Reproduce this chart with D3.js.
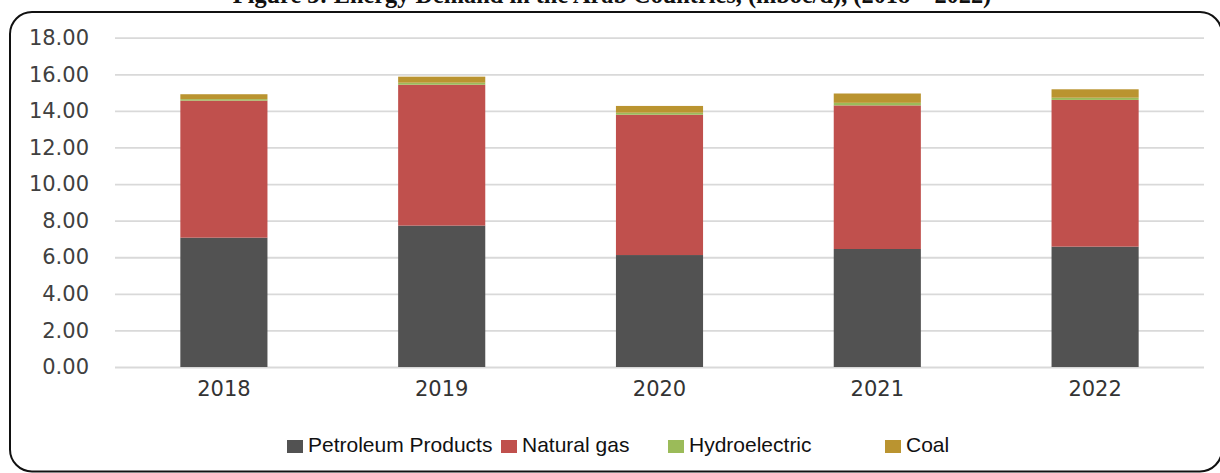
<!DOCTYPE html>
<html>
<head>
<meta charset="utf-8">
<script src="https://cdn.jsdelivr.net/npm/d3@7"></script>
<style>
  html, body { margin: 0; padding: 0; background: #fff; }
  svg { display: block; }
</style>
</head>
<body>
<svg id="chart" width="1220" height="473"></svg>
<script>
// ---- data ----
const years = ["2018", "2019", "2020", "2021", "2022"];
const petroleumProducts = [7.07, 7.73, 6.12, 6.45, 6.58];
const naturalGas = [7.49, 7.70, 7.67, 7.85, 8.02];
const hydroelectric = [0.08, 0.11, 0.11, 0.14, 0.12];
const coal = [0.27, 0.33, 0.37, 0.51, 0.46];
const seriesNames = ["Petroleum Products", "Natural gas", "Hydroelectric", "Coal"];
const yTicks = [0, 2, 4, 6, 8, 10, 12, 14, 16, 18];
const titleText = "Figure 3: Energy Demand in the Arab Countries, (mboe/d), (2018 \u2013 2022)";

// ---- build ----
const colors = ["#525252", "#C0504D", "#9BBB59", "#BA9430"];
const seriesValues = [petroleumProducts, naturalGas, hydroelectric, coal];
const rows = years.map((y, i) => {
  const r = { year: y };
  seriesNames.forEach((s, k) => r[s] = seriesValues[k][i]);
  return r;
});
const stacked = d3.stack().keys(seriesNames)(rows);

const svg = d3.select("#chart");

const x = d3.scaleBand().domain(years).range([115, 1204]).paddingInner(0.6).paddingOuter(0.3);
const y = d3.scaleLinear().domain([0, 18]).range([367, 37.7]);

// frame
svg.append("rect")
  .attr("x", 10).attr("y", 12)
  .attr("width", 1212).attr("height", 459.5)
  .attr("rx", 22).attr("ry", 22)
  .attr("fill", "none").attr("stroke", "#111").attr("stroke-width", 2);

// title (cut at top)
const title = svg.append("text")
  .attr("x", 612).attr("y", 3)
  .attr("text-anchor", "middle")
  .attr("font-family", "Liberation Serif, Times New Roman, serif")
  .attr("font-weight", "bold")
  .attr("font-size", 20)
  .attr("fill", "#111")
  .text(titleText);
const tl = title.node().getComputedTextLength();
title.attr("font-size", 20 * 759 / tl);

// gridlines + y axis labels via axis
const yAxis = d3.axisLeft(y).tickValues(yTicks).tickFormat(d3.format(".2f"))
  .tickSize(-(1204 - 115)).tickPadding(26);
const gy = svg.append("g").attr("transform", "translate(115,0)").call(yAxis);
gy.select(".domain").remove();
gy.selectAll(".tick line").attr("stroke", "#d9d9d9").attr("stroke-width", 1.8);
gy.selectAll(".tick text")
  .attr("font-family", "DejaVu Sans, sans-serif")
  .attr("font-size", 21)
  .attr("fill", "#404040");

// bars
svg.append("g").selectAll("g")
  .data(stacked)
  .join("g")
  .attr("fill", (d, i) => colors[i])
  .selectAll("rect")
  .data(d => d)
  .join("rect")
  .attr("x", d => x(d.data.year))
  .attr("width", x.bandwidth())
  .attr("y", d => y(d[1]))
  .attr("height", d => y(d[0]) - y(d[1]));

// x axis labels
const xAxis = d3.axisBottom(x).tickSize(0).tickPadding(14);
const gx = svg.append("g").attr("transform", "translate(0,367)").call(xAxis);
gx.select(".domain").remove();
gx.selectAll(".tick text")
  .attr("font-family", "DejaVu Sans, sans-serif")
  .attr("font-size", 21)
  .attr("fill", "#333");

// legend
const legendX = [287, 501, 668, 885];
const lg = svg.append("g").selectAll("g")
  .data(seriesNames)
  .join("g")
  .attr("transform", (d, i) => `translate(${legendX[i]},0)`);
lg.append("rect")
  .attr("x", 0).attr("y", 440)
  .attr("width", 16).attr("height", 13)
  .attr("fill", (d, i) => colors[i]);
lg.append("text")
  .attr("x", 21).attr("y", 452)
  .attr("font-family", "Liberation Sans, Arial, sans-serif")
  .attr("font-size", 21)
  .attr("fill", "#111")
  .text(d => d);
</script>
</body>
</html>
